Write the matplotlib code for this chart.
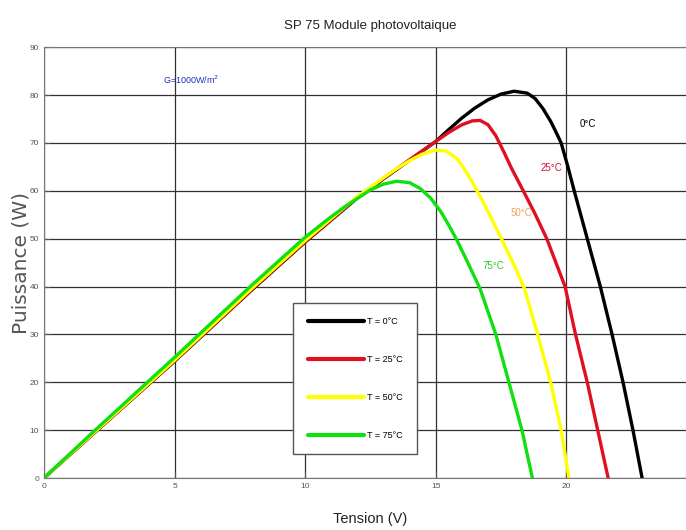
import numpy as np
import matplotlib
matplotlib.use('Agg')
import matplotlib.pyplot as plt

plt.rcParams['font.family'] = ['Liberation Sans', 'DejaVu Sans']

# Courbes P(V), une par temperature
v_0 = [0, 2, 5, 8, 10, 12, 13, 14, 15, 15.5, 16, 16.5, 17, 17.5, 18, 18.5, 18.8, 19.1, 19.4, 19.6,
       19.8, 20.05, 20.3, 20.8, 21.3, 21.75, 22.17, 22.55, 22.9]
p_0 = [0, 9.8, 24.4, 39.5, 49.3, 58.5, 62.5, 66.4, 70.3, 72.8, 75.2, 77.3, 79.0, 80.2, 80.8, 80.4, 79.3, 77.2, 74.5, 72.3,
       70.0, 65.2, 60.0, 50.0, 40.0, 30.0, 20.0, 10.0, 0]

v_25 = [0, 2, 5, 8, 10, 12, 13, 14, 14.5, 15, 15.5, 16, 16.4, 16.7, 17.0, 17.3, 17.6, 17.9, 18.35,
        18.8, 19.25, 19.6, 19.95, 20.35, 20.8, 21.2, 21.6]
p_25 = [0, 9.8, 24.5, 39.6, 49.4, 58.6, 62.6, 66.5, 68.4, 70.3, 72.2, 73.8, 74.6, 74.7, 73.8, 71.5, 68.2, 64.7, 60.0,
        55.2, 50.0, 45.0, 40.0, 30.0, 20.0, 10.0, 0]

v_50 = [0, 2, 5, 8, 10, 12, 13, 13.5, 14, 14.5, 15, 15.4, 15.8, 16.1, 16.4, 16.8, 17.2, 17.6, 18.0,
        18.4, 18.9, 19.4, 19.8, 20.1]
p_50 = [0, 9.9, 24.6, 39.8, 49.6, 58.8, 62.7, 64.6, 66.3, 67.7, 68.5, 68.3, 66.8, 64.5, 61.8, 57.8, 53.5, 49.0, 44.5,
        39.5, 30.0, 20.0, 10.0, 0]

v_75 = [0, 2, 5, 8, 10, 11, 11.5, 12, 12.5, 13, 13.5, 14.0, 14.4, 14.8, 15.2, 15.5, 15.8, 16.2,
        16.7, 17.3, 17.8, 18.3, 18.7]
p_75 = [0, 10.2, 25.2, 40.5, 50.3, 54.6, 56.6, 58.4, 60.2, 61.4, 62.0, 61.7, 60.5, 58.5, 55.6, 52.8, 49.8, 45.3,
        39.5, 30.0, 20.0, 10.0, 0]

series = [
    (v_0, p_0, 'black', 'T = 0°C'),
    (v_25, p_25, '#e01020', 'T = 25°C'),
    (v_50, p_50, '#ffff00', 'T = 50°C'),
    (v_75, p_75, '#10e010', 'T = 75°C'),
]

# Etiquettes de temperature sur le graphe
temp_labels = ['0°C', '25°C', '50°C', '75°C']
temp_pos = [(20.5, 74), (19.0, 64.7), (17.85, 55.3), (16.8, 44.3)]
temp_colors = ['black', '#d01040', '#f0a060', '#20d020']

fig = plt.figure(figsize=(6.86, 5.30), dpi=100)
ax = fig.add_axes([0.064, 0.098, 0.952, 0.813])

for v, p, c, lab in series:
    ax.plot(v, p, color=c, lw=2.4, label=lab, solid_joinstyle='round', solid_capstyle='round')

ax.set_xlim(0, 25)
ax.set_ylim(0, 90)
ax.set_xticks(np.arange(0, 26, 5))
ax.set_xticklabels(['0', '5', '10', '15', '20', ''])
ax.set_yticks(np.arange(0, 91, 10))
ax.grid(True, color='#303030', lw=0.9)
ax.set_axisbelow(True)
ax.tick_params(direction='in', labelsize=6, colors='#555555', length=4)
for s in ax.spines.values():
    s.set_color('#777777')

ax.set_title('SP 75 Module photovoltaique', fontsize=9.5, color='#222222', pad=13)
ax.set_xlabel('Tension (V)', fontsize=10.5, color='#222222', labelpad=16)
ax.set_ylabel('Puissance (W)', fontsize=14.5, color='#555555', labelpad=-1,
              family=['DejaVu Sans'])

ax.text(4.55, 83.2, 'G=1000W/m$^2$', color='#2030c0', fontsize=6.5, va='center')
for t, (x, y), c in zip(temp_labels, temp_pos, temp_colors):
    ax.text(x, y, t, color=c, fontsize=7, va='center')

leg = ax.legend(loc='lower left', bbox_to_anchor=(0.382, 0.055), fontsize=6.5,
                handlelength=6.2, labelspacing=3.2, borderpad=1.6,
                handletextpad=0.3, fancybox=False, framealpha=1,
                edgecolor='#555555', borderaxespad=0)
for ln in leg.get_lines():
    ln.set_linewidth(3)

fig.savefig('out.png', dpi=100)
